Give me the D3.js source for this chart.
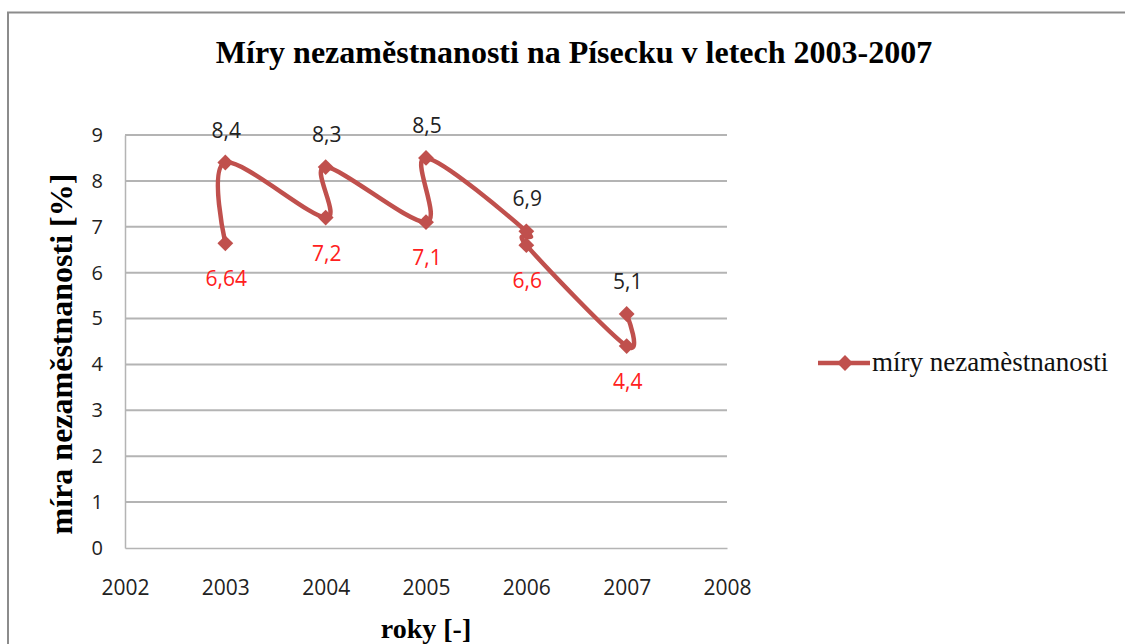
<!DOCTYPE html>
<html lang="cs">
<head>
<meta charset="UTF-8">
<title>Míry nezaměstnanosti</title>
<script src="https://cdn.jsdelivr.net/npm/d3@7"></script>
<style>
  body { margin: 0; background: #fff; }
</style>
</head>
<body>
<div id="chart"></div>
<script>
// data
const years  = [2003, 2003, 2004, 2004, 2005, 2005, 2006, 2006, 2007, 2007];
const values = [6.64, 8.4, 7.2, 8.3, 7.1, 8.5, 6.9, 6.6, 4.4, 5.1];
const labels = ["6,64", "8,4", "7,2", "8,3", "7,1", "8,5", "6,9", "6,6", "4,4", "5,1"];
const labelUp = [false, true, false, true, false, true, true, false, false, true];
const xTicks = [2002, 2003, 2004, 2005, 2006, 2007, 2008];
const yTicks = [0, 1, 2, 3, 4, 5, 6, 7, 8, 9];

const W = 1125, H = 644;
const plot = {left: 125, right: 727, top: 135, bottom: 548};
const red = "#c0504d";
const sans = "'Open Sans', 'DejaVu Sans', sans-serif";
const serif = "'Liberation Serif', 'Times New Roman', serif";

const svg = d3.select("#chart").append("svg")
    .attr("width", W).attr("height", H);

svg.append("rect").attr("width", W).attr("height", H).attr("fill", "#fff");
// outer chart border
svg.append("rect")
    .attr("x", 8).attr("y", 12.5)
    .attr("width", W + 10).attr("height", H + 10)
    .attr("fill", "none").attr("stroke", "#8c8c8c").attr("stroke-width", 2);

const x = d3.scaleLinear().domain([2002, 2008]).range([plot.left, plot.right]);
const y = d3.scaleLinear().domain([0, 9]).range([plot.bottom, plot.top]);

// gridlines
svg.append("g")
    .selectAll("line")
    .data(yTicks.filter(d => d > 0))
    .join("line")
      .attr("x1", plot.left).attr("x2", plot.right)
      .attr("y1", d => y(d)).attr("y2", d => y(d))
      .attr("stroke", "#b4b4b4").attr("stroke-width", 2);

// y axis
const yAxis = svg.append("g")
    .attr("transform", `translate(${plot.left},0)`)
    .call(d3.axisLeft(y).tickValues(yTicks).tickSize(0).tickPadding(22));
yAxis.select(".domain").attr("stroke", "#b4b4b4").attr("stroke-width", 1.5);
yAxis.selectAll("text")
    .attr("font-family", sans)
    .attr("font-size", "20px").attr("fill", "#222");

// x axis (baseline)
const xAxis = svg.append("g")
    .attr("transform", `translate(0,${plot.bottom})`)
    .call(d3.axisBottom(x).tickValues(xTicks).tickFormat(d3.format("d")).tickSize(0).tickPadding(32));
xAxis.select(".domain").attr("stroke", "#b4b4b4").attr("stroke-width", 1.5);
xAxis.selectAll("text")
    .attr("font-family", sans)
    .attr("font-size", "21px").attr("fill", "#222");

// the smoothed line
const pts = years.map((yr, i) => [x(yr), y(values[i])]);
svg.append("path")
    .attr("d", d3.line().curve(d3.curveCatmullRom.alpha(0))(pts))
    .attr("fill", "none").attr("stroke", red).attr("stroke-width", 4.5)
    .attr("stroke-linejoin", "round");

// diamond markers
const diamond = d3.symbol().type(d3.symbolDiamond2).size(160);
svg.append("g")
    .selectAll("path")
    .data(pts)
    .join("path")
      .attr("transform", d => `translate(${d[0]},${d[1]})`)
      .attr("d", diamond)
      .attr("fill", red);

// data labels
svg.append("g")
    .selectAll("text")
    .data(years)
    .join("text")
      .attr("x", (d, i) => x(d) + 1)
      .attr("y", (d, i) => y(values[i]) + (labelUp[i] ? -25 : 43))
      .attr("text-anchor", "middle")
      .attr("font-family", sans)
      .attr("font-size", "21px")
      .attr("fill", (d, i) => labelUp[i] ? "#222" : "#ff2020")
      .text((d, i) => labels[i]);

// titles
svg.append("text")
    .attr("x", 574).attr("y", 63)
    .attr("text-anchor", "middle")
    .attr("font-family", serif)
    .attr("font-weight", "bold").attr("font-size", "32px")
    .text("Míry nezaměstnanosti na Písecku v letech 2003-2007");

svg.append("text")
    .attr("transform", "translate(72,354) rotate(-90)")
    .attr("text-anchor", "middle")
    .attr("font-family", serif)
    .attr("font-weight", "bold").attr("font-size", "32px")
    .text("míra nezaměstnanosti [%]");

svg.append("text")
    .attr("x", 426).attr("y", 638)
    .attr("text-anchor", "middle")
    .attr("font-family", serif)
    .attr("font-weight", "bold").attr("font-size", "28px")
    .text("roky [-]");

// legend
const lg = svg.append("g").attr("transform", "translate(818,363)");
lg.append("line").attr("x1", 0).attr("x2", 52)
    .attr("stroke", red).attr("stroke-width", 4.5);
lg.append("path").attr("transform", "translate(27,0)").attr("d", diamond).attr("fill", red);
lg.append("text")
    .attr("x", 54).attr("y", 8)
    .attr("font-family", serif)
    .attr("font-size", "27px").attr("fill", "#111")
    .text("míry nezamèstnanosti");
</script>
</body>
</html>
